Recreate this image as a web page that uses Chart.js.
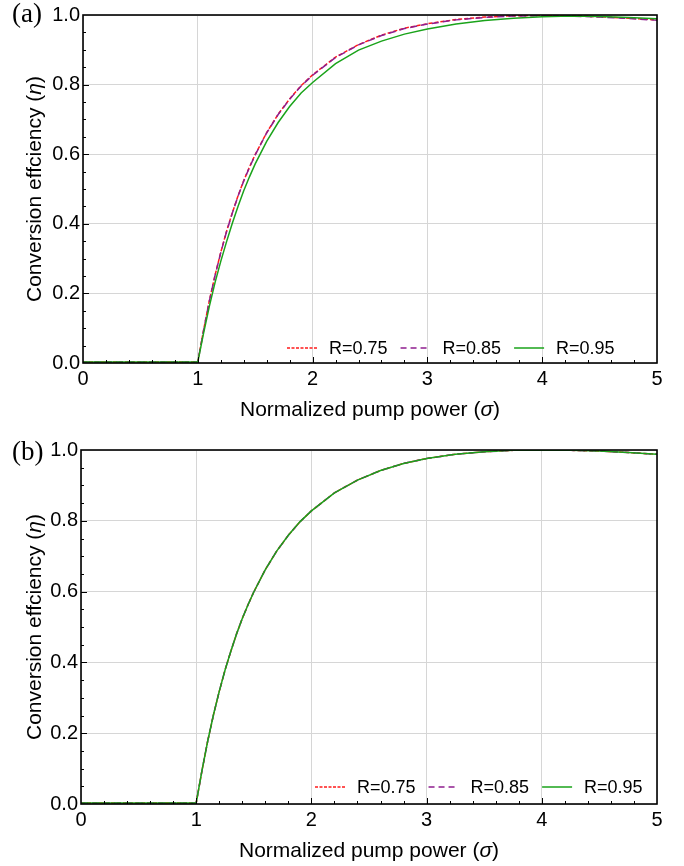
<!DOCTYPE html>
<html>
<head>
<meta charset="utf-8">
<script src="https://cdn.jsdelivr.net/npm/chart.js@4.4.1/dist/chart.umd.min.js"></script>
<style>
  body { margin: 0; background: #fff; width: 684px; height: 866px; overflow: hidden; }
  .panel { position: absolute; left: 0; width: 684px; height: 433px; }
</style>
</head>
<body>
<div class="panel" style="top:0"><canvas id="ca"></canvas></div>
<div class="panel" style="top:433px"><canvas id="cb"></canvas></div>
<script>
// normalized pump power (sigma)
const sigma = [0, 0.5, 1.0, 1.05, 1.1, 1.15, 1.2, 1.25, 1.3, 1.35, 1.4, 1.45, 1.5, 1.6, 1.7, 1.8, 1.9, 2.0,
  2.2, 2.4, 2.6, 2.8, 3.0, 3.25, 3.5, 3.75, 4.0, 4.25, 4.5, 4.75, 5.0]

// panel (a)
const etaA75 = [0.003, 0.003, 0.003, 0.094, 0.178, 0.252, 0.318, 0.378, 0.431, 0.480, 0.524, 0.563, 0.599, 0.662, 0.715, 0.759, 0.797, 0.828,
  0.879, 0.915, 0.942, 0.962, 0.975, 0.987, 0.994, 0.998, 0.999, 0.998, 0.995, 0.991, 0.986]
const etaA85 = [0.003, 0.003, 0.003, 0.093, 0.177, 0.251, 0.317, 0.377, 0.430, 0.479, 0.523, 0.562, 0.598, 0.661, 0.714, 0.758, 0.796, 0.827,
  0.878, 0.914, 0.941, 0.961, 0.974, 0.986, 0.993, 0.997, 0.998, 0.997, 0.994, 0.990, 0.985]
const etaA95 = [0.003, 0.003, 0.003, 0.085, 0.162, 0.231, 0.292, 0.348, 0.401, 0.450, 0.495, 0.535, 0.572, 0.637, 0.691, 0.737, 0.776, 0.806,
  0.860, 0.899, 0.925, 0.945, 0.960, 0.974, 0.984, 0.991, 0.995, 0.997, 0.996, 0.993, 0.989]

// panel (b)
const etaB75 = [0.003, 0.003, 0.003, 0.094, 0.178, 0.252, 0.318, 0.378, 0.431, 0.480, 0.524, 0.563, 0.599, 0.662, 0.715, 0.759, 0.797, 0.828,
  0.879, 0.915, 0.942, 0.962, 0.976, 0.988, 0.995, 0.999, 1.000, 0.999, 0.997, 0.993, 0.988]
const etaB85 = etaB75.slice()
const etaB95 = etaB75.slice()

const seriesLabels = ['R=0.75', 'R=0.85', 'R=0.95']
const xLabel = ['Normalized pump power (', 'σ', ')']
const yLabel = ['Conversion effciency (', 'η', ')']

const FONT = '"Liberation Sans", Arial, sans-serif'

function mkSets(a, b, c) {
  const pts = v => sigma.map((s, i) => ({ x: s, y: v[i] }))
  return [
    { label: seriesLabels[0], data: pts(a), borderColor: '#ff1a1a', borderWidth: 1.5, borderDash: [4, 2], order: 3 },
    { label: seriesLabels[1], data: pts(b), borderColor: '#8e1e8e', borderWidth: 1.5, borderDash: [7, 4], order: 2 },
    { label: seriesLabels[2], data: pts(c), borderColor: '#1aa31a', borderWidth: 1.5, order: 1 }
  ]
}

function drawParts(ctx, parts, cx, cy) {
  const fonts = ['21px ' + FONT, 'italic 21px ' + FONT, '21px ' + FONT]
  let w = 0
  const ws = parts.map((p, i) => { ctx.font = fonts[i]; const m = ctx.measureText(p).width; w += m; return m })
  let x = cx - w / 2
  ctx.textBaseline = 'middle'; ctx.textAlign = 'left'
  parts.forEach((p, i) => { ctx.font = fonts[i]; ctx.fillText(p, x, cy); x += ws[i] })
}

const decor = {
  id: 'decor',
  afterDraw(c, args, o) {
    const { ctx, chartArea: a, scales: { x, y } } = c
    ctx.save()
    ctx.strokeStyle = '#000'; ctx.lineWidth = 1
    ctx.beginPath()
    for (let i = 1; i < 25; i++) {
      const px = Math.round(x.getPixelForValue(i / 5)) + 0.5
      ctx.moveTo(px, a.bottom); ctx.lineTo(px, a.bottom - (i % 5 ? 3 : 6))
    }
    for (let i = 1; i < 20; i++) {
      const py = Math.round(y.getPixelForValue(i / 20)) + 0.5
      ctx.moveTo(a.left, py); ctx.lineTo(a.left + (i % 4 ? 3 : 6), py)
    }
    ctx.stroke()
    ctx.lineWidth = 1.6
    ctx.strokeRect(a.left, a.top, a.right - a.left, a.bottom - a.top)

    // legend
    let lx = o.legendX
    const ly = a.bottom - o.legendDy
    ctx.font = '18px ' + FONT; ctx.textBaseline = 'middle'; ctx.textAlign = 'left'
    c.data.datasets.forEach(ds => {
      ctx.strokeStyle = ds.borderColor; ctx.lineWidth = 1.5
      ctx.setLineDash(ds.borderDash ? (ds.order === 3 ? [3, 1.5] : [6, 4]) : [])
      ctx.beginPath(); ctx.moveTo(lx, ly); ctx.lineTo(lx + 30, ly); ctx.stroke()
      ctx.setLineDash([])
      ctx.fillStyle = '#000'
      ctx.fillText(ds.label, lx + 42, ly + 1)
      lx += 42 + ctx.measureText(ds.label).width + 13
    })

    // axis titles
    ctx.fillStyle = '#000'
    drawParts(ctx, xLabel, (a.left + a.right) / 2, a.bottom + 47)
    ctx.save()
    ctx.translate(35, (a.top + a.bottom) / 2)
    ctx.rotate(-Math.PI / 2)
    drawParts(ctx, yLabel, 0, 0)
    ctx.restore()

    // panel tag
    ctx.font = '27px "Liberation Serif", "Times New Roman", serif'
    ctx.textBaseline = 'alphabetic'
    ctx.fillText(o.tag, 12, o.tagY)
    ctx.restore()
  }
}

function mkChart(id, sets, opt) {
  return new Chart(document.getElementById(id), {
    type: 'line',
    data: { datasets: sets },
    options: {
      responsive: true, maintainAspectRatio: false, animation: false,
      layout: { padding: { top: opt.top, right: 27, left: 0, bottom: 0 } },
      elements: { point: { radius: 0 }, line: { tension: 0, fill: false } },
      plugins: { legend: { display: false }, tooltip: { enabled: false }, decor: opt },
      scales: {
        x: {
          type: 'linear', min: 0, max: 5,
          ticks: { stepSize: 1, color: '#000', padding: 4, font: { size: 20, family: FONT } },
          grid: { color: '#d6d6d6', drawTicks: false },
          border: { display: false },
          afterFit: s => { s.height = opt.xh }
        },
        y: {
          type: 'linear', min: 0, max: 1,
          ticks: { stepSize: 0.2, color: '#000', padding: 3, font: { size: 20, family: FONT }, callback: v => v.toFixed(1) },
          grid: { color: '#d6d6d6', drawTicks: false },
          border: { display: false },
          afterFit: s => { s.width = opt.yw }
        }
      }
    },
    plugins: [decor]
  })
}

mkChart('ca', mkSets(etaA75, etaA85, etaA95), { top: 13, xh: 70, yw: 83, legendX: 287, legendDy: 15, tag: '(a)', tagY: 22 })
mkChart('cb', mkSets(etaB75, etaB85, etaB95), { top: 17, xh: 62, yw: 81, legendX: 315, legendDy: 17, tag: '(b)', tagY: 27 })
</script>
</body>
</html>
